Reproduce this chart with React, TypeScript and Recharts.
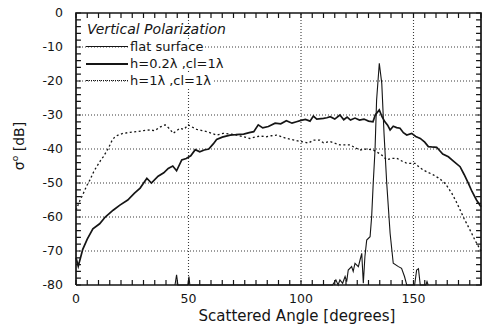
import { LineChart, Line, XAxis, YAxis, Legend } from "recharts";

// angles in degrees, values in dB
const roughAngles = [0, 1, 2, 3, 5, 7.5, 10.5, 13, 16.5, 19.5, 23, 26, 28.5, 31.5, 33.5, 36.5, 39, 41, 43, 44.7, 47, 49, 51, 53, 55, 57, 59, 61, 62.5, 65, 68.5, 71, 74.5, 77, 79, 81, 83, 85.5, 88.5, 91, 93.5, 96, 98, 100, 102, 104, 105.5, 107, 110, 111.5, 113, 115, 117.3, 119, 120.5, 122, 124, 126, 128, 130, 132, 133, 134.8, 136, 137.3, 138.5, 139.6, 141, 142.5, 144, 145.5, 147, 149.2, 151, 153, 155, 156.6, 158, 160.3, 163, 165.5, 168, 170.7, 172.5, 174.4, 176, 178, 180];
const roughDb = [-72, -74.5, -72, -69.5, -66.5, -63.5, -62, -60, -58, -56.5, -55, -53, -51.5, -48.6, -50, -48, -47, -45.7, -45, -46.4, -43.2, -42.8, -42, -40.2, -40.8, -40.3, -40, -38.5, -37.2, -36.5, -35.9, -35.8, -35.6, -35.2, -34.9, -32.9, -33.8, -33.4, -32.4, -32.6, -31.7, -32.4, -32, -31.6, -31.3, -31.8, -30.3, -31.2, -31, -30.8, -30.5, -31.2, -30, -31.4, -30.6, -31.5, -30.9, -31.5, -31.2, -31.8, -32, -30, -28.5, -30.5, -32, -33, -34.4, -33.3, -33.7, -33.9, -35.2, -35.9, -35.4, -36.3, -36.9, -38, -39.3, -39.4, -39.5, -41.5, -42.3, -43.7, -45.2, -47.5, -50.1, -52.5, -55, -57];

const veryRoughAngles = [0, 1.5, 3.3, 5, 6.2, 8, 9.2, 11, 12.1, 14.4, 16, 17.3, 19, 21, 24, 27, 30, 32.9, 35, 37.5, 39.6, 41.5, 43.2, 46.2, 48, 49.9, 51.5, 53.6, 56, 58.1, 60.5, 62.5, 65.5, 68.5, 71.4, 74.5, 77.3, 79.5, 81.8, 84.7, 87, 89.2, 91.5, 93.6, 96.5, 99.6, 101.5, 103.2, 105.5, 108.4, 110, 112.9, 115, 117.3, 121.8, 124, 126.2, 129, 132.1, 134, 135.9, 138.1, 140, 142.5, 145, 147, 150.7, 152.5, 154.4, 156.5, 158.8, 161, 163.3, 165, 167, 169, 170.7, 172.5, 174.4, 176, 177.3, 180];
const veryRoughDb = [-58, -55.5, -53, -50.5, -49.1, -46.5, -45.2, -43.3, -42.3, -39.8, -37.5, -36.4, -35.8, -35.4, -35.1, -34.9, -34.6, -34.4, -34.6, -33.5, -32.9, -34, -35.4, -33.9, -34.2, -32.9, -33.5, -34.2, -34.6, -34.9, -35.4, -35.9, -35.4, -35.6, -35.9, -36.4, -36.9, -36.5, -36.2, -36.4, -36.1, -35.9, -36.4, -36.9, -37.3, -37.8, -38, -38.3, -37.4, -37.4, -38.2, -37.8, -38.3, -38.8, -38.8, -39.6, -40.3, -40, -40.3, -41, -41.8, -43.2, -42.8, -42.7, -43.6, -44.2, -44.2, -45.3, -46.2, -46.9, -47.6, -48.5, -49.6, -51, -53, -55.5, -57.9, -60.5, -62.9, -65, -66.8, -70];

const flatAngles = [44, 44.7, 45.3, 49.7, 50.2, 50.6, 114, 115.5, 116.5, 117.3, 118.5, 119.6, 120.3, 121, 122.5, 123.2, 124, 125.5, 126.3, 127, 127.7, 128.4, 129.2, 130.7, 131.4, 132.1, 132.9, 133.6, 134.8, 135.9, 136.9, 138.1, 139.6, 141, 143.3, 144.7, 146, 147, 150.5, 151.4, 152.2, 153, 155.5, 156, 156.5];
const flatDb = [-80, -77, -80, -80, -77.5, -80, -80, -78.5, -80, -78.5, -79.5, -77.5, -79, -75.6, -74.6, -76, -73.6, -74.6, -72.5, -70.7, -79.5, -71.7, -66.8, -65.8, -59.9, -50.1, -40.3, -25.6, -14.8, -20.7, -35.4, -50.1, -64.8, -73.6, -74.6, -75.1, -77.5, -80, -80, -75.6, -75.2, -80, -80, -79, -80];

const xLabels = [0, 50, 100, 150];
const yLabels = [0, -10, -20, -30, -40, -50, -60, -70, -80];
const X_MIN = 0;
const X_MAX = 180;
const Y_MIN = -80;
const Y_MAX = 0;
const xMinor = Array.from({ length: 37 }, (_, i) => i * 5);
const yMinor = Array.from({ length: 41 }, (_, i) => -i * 2);

type Pt = { angle: number; db: number | null };
const zip = (a: number[], b: number[]): Pt[] => a.map((angle, i) => ({ angle, db: b[i] }));
const roughData = zip(roughAngles, roughDb);
const veryRoughData = zip(veryRoughAngles, veryRoughDb);
const flatData = zip(flatAngles, flatDb);

// grid, frame and inward ticks in data units, segments broken by nulls
const segs = (pairs: [Pt, Pt][]): Pt[] => pairs.flatMap(([a, b]) => [a, b, { angle: b.angle, db: null }]);
const X_TICK = 2.2; // ~5 px
const Y_TICK = 1.5; // ~5 px
const gridH = segs(yLabels.slice(1, -1).map((y): [Pt, Pt] => [{ angle: X_MIN, db: y }, { angle: X_MAX, db: y }]));
const gridV = segs(xLabels.slice(1).map((x): [Pt, Pt] => [{ angle: x, db: Y_MIN }, { angle: x, db: Y_MAX }]));
const frame: Pt[] = [
  { angle: X_MIN, db: Y_MIN },
  { angle: X_MIN, db: Y_MAX },
  { angle: X_MAX, db: Y_MAX },
  { angle: X_MAX, db: Y_MIN },
  { angle: X_MIN, db: Y_MIN },
];
const tickMarks = segs([
  ...xMinor.map((t): [Pt, Pt] => [{ angle: t, db: Y_MIN }, { angle: t, db: Y_MIN + Y_TICK }]),
  ...xMinor.map((t): [Pt, Pt] => [{ angle: t, db: Y_MAX }, { angle: t, db: Y_MAX - Y_TICK }]),
  ...yMinor.map((t): [Pt, Pt] => [{ angle: X_MIN, db: t }, { angle: X_MIN + X_TICK, db: t }]),
  ...yMinor.map((t): [Pt, Pt] => [{ angle: X_MAX, db: t }, { angle: X_MAX - X_TICK, db: t }]),
]);

const FONT = '"DejaVu Sans", sans-serif';
const INK = "#151515";
const W = 482;
const H = 330;
const MARGIN = { top: 13, right: 1, bottom: 0, left: 0 };

const legendRows = [
  { name: "flat surface", border: `1px solid ${INK}` },
  { name: "h=0.2\u03bb ,cl=1\u03bb", border: `2px solid ${INK}` },
  { name: "h=1\u03bb ,cl=1\u03bb", border: `1.5px dotted ${INK}` },
];

function LegendBox() {
  return (
    <div style={{ fontFamily: FONT, color: INK }}>
      <div style={{ height: 17, lineHeight: "17px", fontSize: 14, fontStyle: "italic", paddingLeft: 7 }}>
        Vertical Polarization
      </div>
      {legendRows.map((r) => (
        <div key={r.name} style={{ height: 17, display: "flex", alignItems: "center" }}>
          <div style={{ width: 42, marginLeft: 6, borderTop: r.border }} />
          <span style={{ fontSize: 13, background: "#fff", padding: "0 2px", lineHeight: "15px" }}>{r.name}</span>
        </div>
      ))}
    </div>
  );
}

// underlay chart: same plot box and domains, draws grid, frame and ticks
function GuideChart() {
  return (
    <LineChart width={W} height={H} margin={MARGIN}>
      <XAxis dataKey="angle" type="number" domain={[X_MIN, X_MAX]} ticks={xLabels} height={45} tick={false} axisLine={false} tickLine={false} />
      <YAxis type="number" domain={[Y_MIN, Y_MAX]} ticks={yLabels} width={76} tick={false} axisLine={false} tickLine={false} />
      <Line data={gridH} dataKey="db" stroke="#3a3a3a" strokeWidth={1.1} strokeDasharray="1 2" dot={false} isAnimationActive={false} />
      <Line data={gridV} dataKey="db" stroke="#3a3a3a" strokeWidth={1.1} strokeDasharray="1 2" dot={false} isAnimationActive={false} />
      <Line data={tickMarks} dataKey="db" stroke={INK} strokeWidth={1.2} dot={false} isAnimationActive={false} />
      <Line data={frame} dataKey="db" stroke={INK} strokeWidth={1.7} dot={false} isAnimationActive={false} />
    </LineChart>
  );
}

function MainChart() {
  return (
    <LineChart width={W} height={H} margin={MARGIN}>
      <XAxis
        dataKey="angle"
        type="number"
        domain={[X_MIN, X_MAX]}
        ticks={xLabels}
        interval={0}
        tickSize={0}
        tickMargin={9}
        height={45}
        axisLine={false}
        tickLine={false}
        stroke={INK}
      />
      <YAxis
        type="number"
        domain={[Y_MIN, Y_MAX]}
        ticks={yLabels}
        interval={0}
        tickSize={0}
        tickMargin={13}
        width={76}
        axisLine={false}
        tickLine={false}
        stroke={INK}
      />
      <Legend
        layout="horizontal"
        verticalAlign="middle"
        align="center"
        content={() => <LegendBox />}
        wrapperStyle={{ left: 80, top: 21, width: 200 }}
      />
      <Line data={veryRoughData} dataKey="db" stroke={INK} strokeWidth={1.3} strokeDasharray="2 2.5" dot={false} isAnimationActive={false} />
      <Line data={roughData} dataKey="db" stroke={INK} strokeWidth={1.7} dot={false} isAnimationActive={false} />
      <Line data={flatData} dataKey="db" stroke={INK} strokeWidth={1.1} dot={false} isAnimationActive={false} />
    </LineChart>
  );
}

export default function App() {
  return (
    <div style={{ position: "absolute", left: 0, top: 0, width: W, height: H, background: "#fff", fontFamily: FONT, fontSize: 12.5, color: INK }}>
      <div style={{ position: "absolute", left: 0, top: 0 }}>
        <GuideChart />
      </div>
      <div style={{ position: "absolute", left: 0, top: 0 }}>
        <MainChart />
      </div>

      <div style={{ position: "absolute", left: 197, top: 308, width: 200, textAlign: "center", fontSize: 15, lineHeight: "17px", whiteSpace: "nowrap" }}>
        Scattered Angle [degrees]
      </div>
      <div
        style={{
          position: "absolute",
          left: 17,
          top: 146,
          transform: "translate(-50%, -50%) rotate(-90deg)",
          fontSize: 14,
          lineHeight: "16px",
          whiteSpace: "nowrap",
        }}
      >
        {"\u03c3"}
        <sup style={{ fontSize: 9 }}>o</sup> [dB]
      </div>
    </div>
  );
}
